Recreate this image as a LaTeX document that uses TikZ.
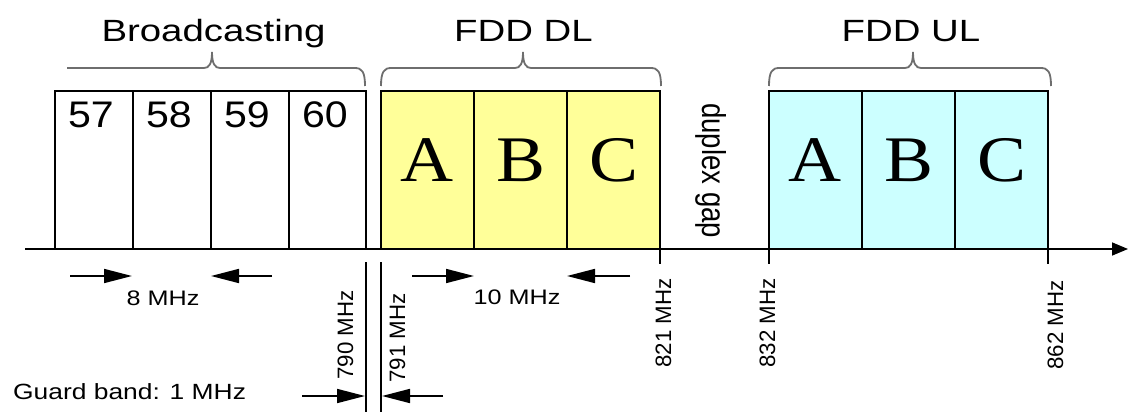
\documentclass[tikz,border=0pt]{standalone}
\usepackage{fontspec}
\setmainfont{Liberation Sans}
\newfontfamily\abcserif{Liberation Serif}
\usetikzlibrary{arrows.meta}
\definecolor{dlyellow}{HTML}{FFFF99}
\definecolor{ulcyan}{HTML}{CCFFFF}
\definecolor{bracegray}{HTML}{6E6E6E}
\newcommand{\hstr}[2]{\scalebox{#1}[1]{#2}}
\newcommand{\vstr}[2]{\scalebox{1}[#1]{#2}}
\begin{document}
\begin{tikzpicture}[x=1pt,y=-1pt,
  chan/.style={draw=black, line width=1.6pt, inner sep=0pt, outer sep=0pt,
               minimum height=158pt, anchor=north west},
  dlbox/.style={chan, fill=dlyellow, minimum width=93pt},
  ulbox/.style={chan, fill=ulcyan, minimum width=93pt},
  numtxt/.style={inner sep=0pt, anchor=base, font=\fontsize{37}{40}\selectfont},
  abctxt/.style={inner sep=0pt, anchor=base, font=\abcserif\fontsize{65}{70}\selectfont},
  titletxt/.style={inner sep=0pt, anchor=base, font=\fontsize{30.7}{34}\selectfont},
  smalltxt/.style={inner sep=0pt, font=\fontsize{21}{24}\selectfont},
  rottxt/.style={inner sep=0pt, rotate=90, anchor=base east, font=\fontsize{22.3}{24}\selectfont},
  bracepath/.style={draw=bracegray, line width=1.8pt},
  dimarrow/.style={line width=1.7pt, -{Triangle[length=28pt,width=14pt]}},
  plainline/.style={line width=1.6pt},
]
\useasboundingbox (0,0) rectangle (1128,412);

% axis
\coordinate (axL) at (25,249);
\coordinate (axR) at (1128,249);
\draw[line width=1.6pt, -{Triangle[length=16pt,width=13pt]}] (axL) -- (axR);

% broadcasting channels
\node[chan, minimum width=78pt] (b57) at (55,91) {};
\node[chan, minimum width=78pt] (b58) at (133,91) {};
\node[chan, minimum width=78pt] (b59) at (211,91) {};
\node[chan, minimum width=77pt] (b60) at (289,91) {};
\node[numtxt] (t57) at (91,128) {\hstr{1.11}{57}};
\node[numtxt] (t58) at (169,128) {\hstr{1.11}{58}};
\node[numtxt] (t59) at (247,128) {\hstr{1.11}{59}};
\node[numtxt] (t60) at (325,128) {\hstr{1.11}{60}};

% FDD DL
\node[dlbox] (dlA) at (381,91) {};
\node[dlbox] (dlB) at (474,91) {};
\node[dlbox] (dlC) at (567,91) {};
\node[abctxt] (tdlA) at (427.5,181) {\hstr{1.13}{A}};
\node[abctxt] (tdlB) at (520.5,181) {\hstr{1.13}{B}};
\node[abctxt] (tdlC) at (613.5,181) {\hstr{1.13}{C}};

% FDD UL
\node[ulbox] (ulA) at (769,91) {};
\node[ulbox] (ulB) at (862,91) {};
\node[ulbox] (ulC) at (955,91) {};
\node[abctxt] (tulA) at (815.5,181) {\hstr{1.13}{A}};
\node[abctxt] (tulB) at (908.5,181) {\hstr{1.13}{B}};
\node[abctxt] (tulC) at (1001.5,181) {\hstr{1.13}{C}};

% braces
\draw[bracepath] (67,68) -- (204,68) .. controls (209,68) and (212,64) .. (212,52)
   .. controls (212,64) and (215,68) .. (220,68) -- (355,68)
   .. controls (362,68) and (365,72) .. (365,86);
\draw[bracepath] (381,86) .. controls (381,72) and (384,68) .. (391,68) -- (515,68)
   .. controls (520,68) and (523,64) .. (523,52)
   .. controls (523,64) and (526,68) .. (531,68) -- (651,68)
   .. controls (658,68) and (661,72) .. (661,86);
\draw[bracepath] (769,86) .. controls (769,72) and (772,68) .. (779,68) -- (905,68)
   .. controls (910,68) and (913,64) .. (913,52)
   .. controls (913,64) and (916,68) .. (921,68) -- (1041,68)
   .. controls (1048,68) and (1051,72) .. (1051,86);

% titles
\node[titletxt] (ttlB) at (213.5,42) {\hstr{1.25}{Broadcasting}};
\node[titletxt] (ttlDL) at (523.5,42) {\hstr{1.25}{FDD DL}};
\node[titletxt] (ttlUL) at (911,42) {\hstr{1.25}{FDD UL}};

% duplex gap
\node[inner sep=0pt, rotate=-90, anchor=base west, font=\fontsize{27.6}{30}\selectfont]
  (dgap) at (702,103) {\vstr{1.2}{duplex gap}};

% ticks
\draw[plainline] (dlC.south east) -- ++(0,15) coordinate (tk821);
\draw[plainline] (ulA.south west) -- ++(0,15) coordinate (tk832);
\draw[plainline] (ulC.south east) -- ++(0,15) coordinate (tk862);

% frequency labels
\node[rottxt] (f821) at (671,278) {821 MHz};
\node[rottxt] (f832) at (775,278) {832 MHz};
\node[rottxt] (f862) at (1063,280) {862 MHz};
\node[rottxt] (f790) at (353,290) {790 MHz};
\node[rottxt] (f791) at (405,293) {791 MHz};

% guard band lines
\coordinate (g1t) at (366,262);
\coordinate (g1b) at (366,412);
\coordinate (g2t) at (381,262);
\coordinate (g2b) at (381,412);
\draw[plainline] (g1t) -- (g1b);
\draw[plainline] (g2t) -- (g2b);

% 8 MHz arrows
\coordinate (a8a) at (70,276);
\coordinate (a8b) at (132,276);
\coordinate (a8c) at (272,276);
\coordinate (a8d) at (211,276);
\draw[dimarrow] (a8a) -- (a8b);
\draw[dimarrow] (a8c) -- (a8d);
\node[smalltxt, anchor=base] (l8) at (163,305) {\hstr{1.2}{8 MHz}};

% 10 MHz arrows
\coordinate (a10a) at (412,276);
\coordinate (a10b) at (474,276);
\coordinate (a10c) at (630,276);
\coordinate (a10d) at (567,276);
\draw[dimarrow] (a10a) -- (a10b);
\draw[dimarrow] (a10c) -- (a10d);
\node[smalltxt, anchor=base] (l10) at (517,304) {\hstr{1.2}{10 MHz}};

% guard band arrows
\coordinate (ga) at (302,396);
\coordinate (gb) at (365,396);
\coordinate (gc) at (443,396);
\coordinate (gd) at (382,396);
\draw[dimarrow] (ga) -- (gb);
\draw[dimarrow] (gc) -- (gd);
\node[inner sep=0pt, anchor=base west, font=\fontsize{22}{24}\selectfont]
  (lguard) at (13,399) {\hstr{1.2}{Guard band: 1 MHz}};
\end{tikzpicture}
\end{document}
